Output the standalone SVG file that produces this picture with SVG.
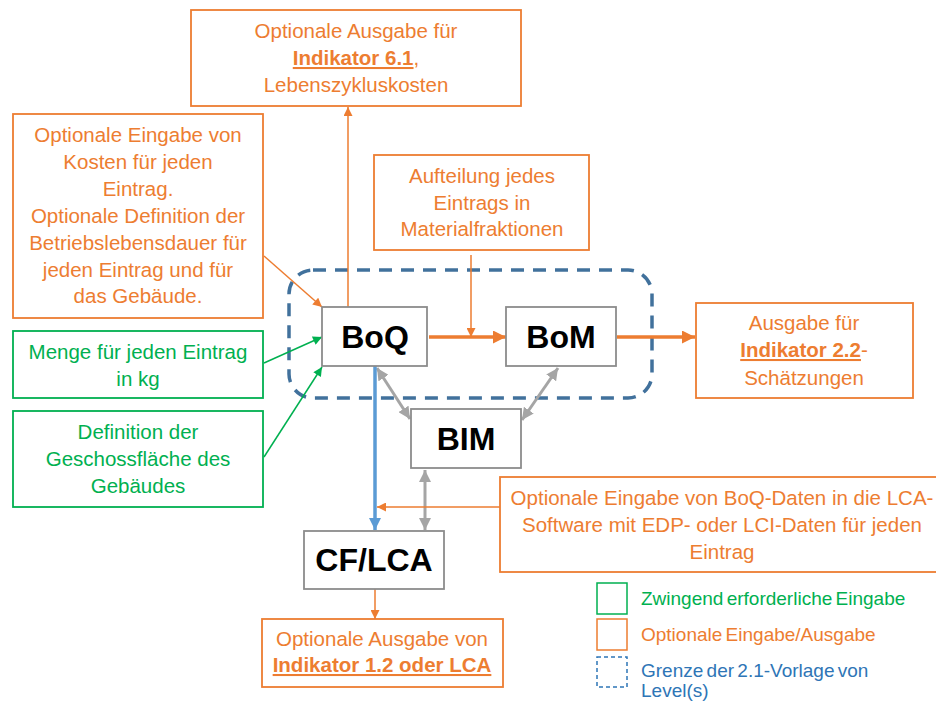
<svg xmlns="http://www.w3.org/2000/svg" width="936" height="702" viewBox="0 0 936 702">
<defs>
<style>
text{font-family:"Liberation Sans",Arial,sans-serif;}
.t{font-size:20.5px;text-anchor:middle;}
.o{fill:#ED7D31;}
.g{fill:#00B050;}
.b{fill:#2E75B6;}
.bold{font-weight:bold;text-decoration:underline;}
.obox{fill:#fff;stroke:#ED7D31;stroke-width:1.8;}
.gbox{fill:#fff;stroke:#00B050;stroke-width:1.8;}
.node{fill:#fff;stroke:#8C8C8C;stroke-width:1.8;}
.nl{font-size:32px;font-weight:bold;text-anchor:middle;fill:#000;}
.lo{stroke:#ED7D31;stroke-width:1.5;fill:none;}
.lot{stroke:#ED7D31;stroke-width:3.5;fill:none;}
.lg{stroke:#00B050;stroke-width:1.5;fill:none;}
.lgr{stroke:#A5A5A5;stroke-width:3;fill:none;}
.lb{stroke:#5B9BD5;stroke-width:3.5;fill:none;}
.leg{font-size:19px;word-spacing:-2px;}
</style>
<marker id="aO" viewBox="0 0 10 10" refX="10" refY="5" markerWidth="10" markerHeight="9" markerUnits="userSpaceOnUse" orient="auto"><path d="M0,0 L10,5 L0,10 z" fill="#ED7D31"/></marker>
<marker id="aOT" viewBox="0 0 10 10" refX="10" refY="5" markerWidth="13" markerHeight="13" markerUnits="userSpaceOnUse" orient="auto"><path d="M0,0 L10,5 L0,10 z" fill="#ED7D31"/></marker>
<marker id="aG" viewBox="0 0 10 10" refX="10" refY="5" markerWidth="10" markerHeight="9" markerUnits="userSpaceOnUse" orient="auto"><path d="M0,0 L10,5 L0,10 z" fill="#00B050"/></marker>
<marker id="aB" viewBox="0 0 10 10" refX="10" refY="5" markerWidth="12" markerHeight="12" markerUnits="userSpaceOnUse" orient="auto"><path d="M0,0 L10,5 L0,10 z" fill="#5B9BD5"/></marker>
<marker id="aGr" viewBox="0 0 10 10" refX="10" refY="5" markerWidth="12" markerHeight="12" markerUnits="userSpaceOnUse" orient="auto-start-reverse"><path d="M0,0 L10,5 L0,10 z" fill="#A5A5A5"/></marker>
</defs>
<rect width="936" height="702" fill="#fff"/>

<g id="boundary">
<rect x="289" y="270" width="363" height="128" rx="24" ry="24" fill="none" stroke="#41719C" stroke-width="3.5" stroke-dasharray="13 9"/>
</g>

<g id="connectors">
<line class="lo" x1="264" y1="256" x2="322" y2="307" marker-end="url(#aO)"/>
<line class="lg" x1="264" y1="363" x2="322" y2="337" marker-end="url(#aG)"/>
<line class="lg" x1="264" y1="457" x2="322" y2="367" marker-end="url(#aG)"/>
<line class="lo" x1="348" y1="307" x2="348" y2="107" marker-end="url(#aO)"/>
<line class="lo" x1="471" y1="255" x2="471" y2="337" marker-end="url(#aO)"/>
<line class="lot" x1="429" y1="337" x2="506" y2="337" marker-end="url(#aOT)"/>
<line class="lot" x1="617" y1="337" x2="695" y2="337" marker-end="url(#aOT)"/>
<line class="lgr" x1="377" y1="368" x2="410" y2="419" marker-start="url(#aGr)" marker-end="url(#aGr)"/>
<line class="lgr" x1="558" y1="368" x2="522" y2="420" marker-start="url(#aGr)" marker-end="url(#aGr)"/>
<line class="lgr" x1="425" y1="470" x2="425" y2="530" marker-start="url(#aGr)" marker-end="url(#aGr)"/>
<line class="lb" x1="375" y1="366" x2="375" y2="530" marker-end="url(#aB)"/>
<line class="lo" x1="500" y1="507" x2="377" y2="507" marker-end="url(#aO)"/>
<line class="lo" x1="375" y1="589" x2="375" y2="619" marker-end="url(#aO)"/>
</g>

<g id="out61">
<rect class="obox" x="191" y="10" width="330" height="96"/>
<text class="t o" x="356" y="38">Optionale Ausgabe für</text>
<text class="t o" x="356" y="65"><tspan class="bold">Indikator 6.1</tspan>,</text>
<text class="t o" x="356" y="92">Lebenszykluskosten</text>
</g>

<g id="costs">
<rect class="obox" x="13" y="114" width="250" height="204"/>
<text class="t o" x="138" y="142">Optionale Eingabe von</text>
<text class="t o" x="138" y="169">Kosten für jeden</text>
<text class="t o" x="138" y="196">Eintrag.</text>
<text class="t o" x="138" y="223">Optionale Definition der</text>
<text class="t o" x="138" y="250">Betriebslebensdauer für</text>
<text class="t o" x="138" y="277">jeden Eintrag und für</text>
<text class="t o" x="138" y="303">das Gebäude.</text>
</g>

<g id="split">
<rect class="obox" x="374" y="155" width="215" height="95"/>
<text class="t o" x="482" y="183">Aufteilung jedes</text>
<text class="t o" x="482" y="210">Eintrags in</text>
<text class="t o" x="482" y="236">Materialfraktionen</text>
</g>

<g id="mass">
<rect class="gbox" x="13" y="331" width="250" height="67"/>
<text class="t g" x="138" y="359">Menge für jeden Eintrag</text>
<text class="t g" x="138" y="386">in kg</text>
</g>

<g id="floor">
<rect class="gbox" x="13" y="411" width="250" height="96"/>
<text class="t g" x="138" y="439">Definition der</text>
<text class="t g" x="138" y="466">Geschossfläche des</text>
<text class="t g" x="138" y="493">Gebäudes</text>
</g>

<g id="boq">
<rect class="node" x="322" y="307" width="105" height="59"/>
<text class="nl" x="375" y="348">BoQ</text>
</g>

<g id="bom">
<rect class="node" x="506" y="307" width="110" height="59"/>
<text class="nl" x="561" y="348">BoM</text>
</g>

<g id="bim">
<rect class="node" x="411" y="409" width="110" height="59"/>
<text class="nl" x="466" y="450">BIM</text>
</g>

<g id="cflca">
<rect class="node" x="304" y="531" width="140" height="58"/>
<text class="nl" x="374" y="571">CF/LCA</text>
</g>

<g id="out22">
<rect class="obox" x="696" y="303" width="217" height="95"/>
<text class="t o" x="804" y="330">Ausgabe für</text>
<text class="t o" x="804" y="357"><tspan class="bold">Indikator 2.2</tspan>-</text>
<text class="t o" x="804" y="385">Schätzungen</text>
</g>

<g id="lcainput">
<rect class="obox" x="500" y="477" width="445" height="95"/>
<text class="t o" x="722" y="505">Optionale Eingabe von BoQ-Daten in die LCA-</text>
<text class="t o" x="722" y="532">Software mit EDP- oder LCI-Daten für jeden</text>
<text class="t o" x="722" y="559">Eintrag</text>
</g>

<g id="out12">
<rect class="obox" x="262" y="619" width="241" height="68"/>
<text class="t o" x="382" y="646">Optionale Ausgabe von</text>
<text class="t o" x="382" y="672"><tspan class="bold">Indikator 1.2 oder LCA</tspan></text>
</g>

<g id="legend">
<rect x="597" y="583" width="30" height="31" fill="none" stroke="#00B050" stroke-width="1.5"/>
<text class="leg g" x="641" y="605">Zwingend erforderliche Eingabe</text>
<rect x="597" y="619" width="30" height="31" fill="none" stroke="#ED7D31" stroke-width="1.5"/>
<text class="leg o" x="641" y="641">Optionale Eingabe/Ausgabe</text>
<rect x="597" y="657" width="30" height="30" fill="none" stroke="#2E75B6" stroke-width="1.5" stroke-dasharray="4 3"/>
<text class="leg b" x="641" y="677">Grenze der 2.1-Vorlage von</text>
<text class="leg b" x="641" y="697">Level(s)</text>
</g>
</svg>
